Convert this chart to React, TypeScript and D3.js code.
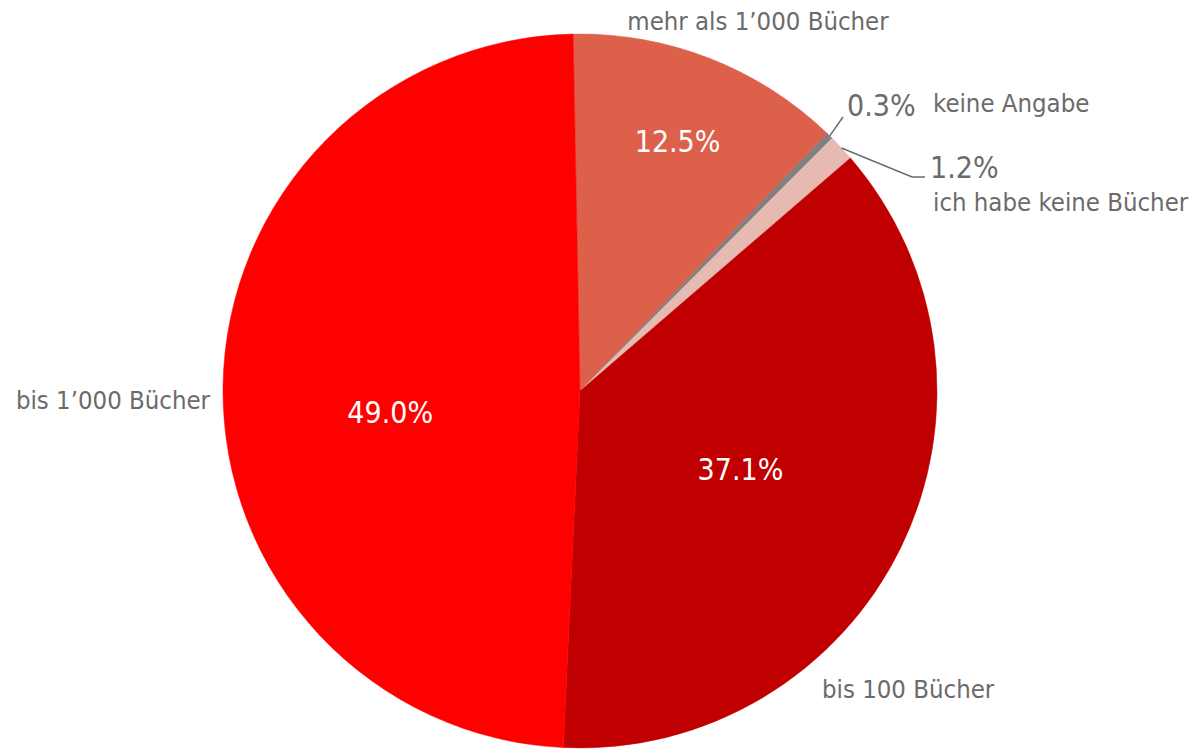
import React from 'react';
import * as d3 from 'd3';

const categories = ['mehr als 1’000 Bücher', 'keine Angabe', 'ich habe keine Bücher', 'bis 100 Bücher', 'bis 1’000 Bücher'];
const shares = [12.5, 0.3, 1.2, 37.1, 49.0];
const percentLabels = ['12.5%', '0.3%', '1.2%', '37.1%', '49.0%'];
const colors = ['#DD604B', '#808080', '#E6B9B1', '#C00000', '#FF0000'];

const W = 1199;
const H = 749;
const cx = 580;
const cy = 391;
const R = 357;
const font = '"DejaVu Sans Condensed", "DejaVu Sans", sans-serif';
const grey = '#6b6b6b';

export default function App() {
    const pie = d3.pie<number>()
        .sort(null)
        .startAngle(-1.1 * Math.PI / 180)
        .endAngle(2 * Math.PI - 1.1 * Math.PI / 180);
    const arcs = pie(shares);
    const arc = d3.arc<d3.PieArcDatum<number>>().innerRadius(0).outerRadius(R);

    const mid = (a) => (a.startAngle + a.endAngle) / 2;
    const at = (ang, r) => [r * Math.sin(ang), -r * Math.cos(ang)];
    const deg = Math.PI / 180;

    // inner percent labels: radius factor and angle shift (deg) per slice, null = outside
    const inner = [[0.75, 0], null, null, [0.5, 0], [0.535, -7.2]];

    const p03 = at(mid(arcs[1]), R);
    const p12 = at(mid(arcs[2]), R);

    return (
        <svg width={W} height={H} style={{position: 'absolute', left: 0, top: 0}}>
            <g transform={`translate(${cx},${cy})`}>
                {arcs.map((a, i) => (
                    <path key={i} d={arc(a)} fill={colors[i]} stroke={colors[i]} strokeWidth={0.5}/>
                ))}
                {arcs.map((a, i) => {
                    if (!inner[i]) return null;
                    const [x, y] = at(mid(a) + inner[i][1] * deg, R * inner[i][0]);
                    return (
                        <text key={i} x={x} y={y} dy="0.36em" textAnchor="middle" fill="#fff"
                              fontFamily={font} fontSize={30}>{percentLabels[i]}</text>
                    );
                })}
                <polyline points={`${p03[0]},${p03[1]} ${843 - cx},${117 - cy}`} fill="none" stroke={grey} strokeWidth={1.5}/>
                <polyline points={`${p12[0]},${p12[1]} ${912 - cx},${177 - cy} ${925 - cx},${177 - cy}`} fill="none" stroke={grey} strokeWidth={1.5}/>
            </g>
            <g fontFamily={font} fill={grey} fontSize={25.5}>
                <text x={758} y={21} dy="0.36em" textAnchor="middle">{categories[0]}</text>
                <text x={847} y={105} dy="0.36em" fontSize={30}>{percentLabels[1]}</text>
                <text x={933} y={103} dy="0.36em">{categories[1]}</text>
                <text x={930} y={167} dy="0.36em" fontSize={30}>{percentLabels[2]}</text>
                <text x={933} y={202} dy="0.36em">{categories[2]}</text>
                <text x={822} y={689} dy="0.36em">{categories[3]}</text>
                <text x={210} y={400} dy="0.36em" textAnchor="end">{categories[4]}</text>
            </g>
        </svg>
    );
}
